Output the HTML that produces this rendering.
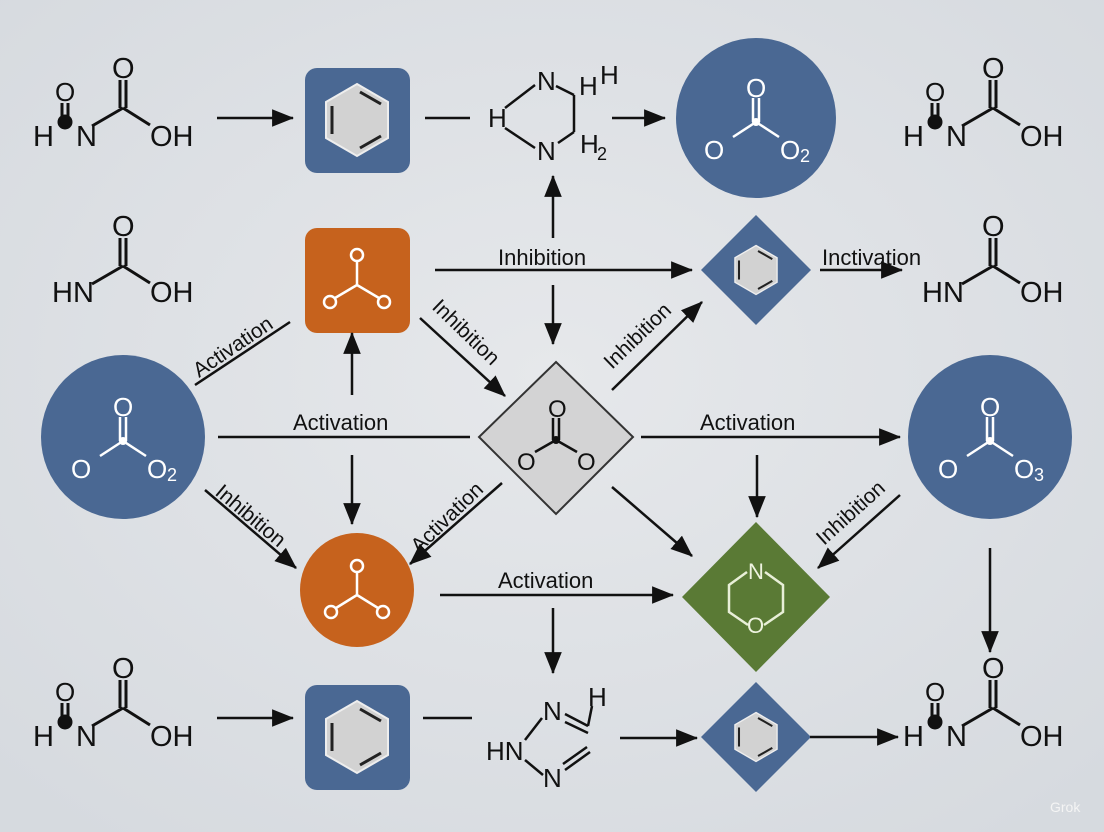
<!DOCTYPE html>
<html><head><meta charset="utf-8"><style>
html,body{margin:0;padding:0;background:#dde0e4}
svg{display:block}
text{font-family:"Liberation Sans",sans-serif;fill:#111}
</style></head><body>
<svg width="1104" height="832" viewBox="0 0 1104 832" xmlns="http://www.w3.org/2000/svg">
<defs>
<radialGradient id="bg" cx="50%" cy="45%" r="70%"><stop offset="0" stop-color="#e6e8eb"/><stop offset="1" stop-color="#d6dadf"/></radialGradient>
<marker id="a" viewBox="0 0 20 16" markerWidth="22" markerHeight="18" refX="19" refY="8" orient="auto" markerUnits="userSpaceOnUse"><path d="M0,0 L20,8 L0,16 z" fill="#111"/></marker>
<g id="carb" stroke="#111" stroke-width="3" fill="none">
<circle cx="65" cy="122" r="6" fill="#111"/>
<line x1="62" y1="103" x2="62" y2="118"/><line x1="68" y1="103" x2="68" y2="118"/>
<line x1="92" y1="126" x2="123" y2="108"/>
<line x1="120" y1="108" x2="120" y2="80"/><line x1="126" y1="108" x2="126" y2="80"/>
<line x1="123" y1="108" x2="150" y2="125"/>
<text x="33" y="146" font-size="29" stroke="none">H</text>
<text x="76" y="146" font-size="29" stroke="none">N</text>
<text x="150" y="146" font-size="29" stroke="none">OH</text>
<text x="112" y="78" font-size="29" stroke="none">O</text>
<text x="55" y="101" font-size="26" stroke="none">O</text>
</g>
<g id="hex"><polygon points="357,84 388,102 388,138 357,156 326,138 326,102" fill="#d2d2d2" stroke="#eee" stroke-width="2"/>
<g stroke="#222" stroke-width="3"><line x1="332" y1="106" x2="332" y2="134"/><line x1="360" y1="92" x2="381" y2="104"/><line x1="360" y1="148" x2="381" y2="136"/></g></g>
</defs>
<rect width="1104" height="832" fill="url(#bg)"/>

<use href="#carb"/>
<use href="#carb" x="870"/>
<use href="#carb" y="600"/>
<use href="#carb" x="870" y="600"/>
<g stroke="#111" stroke-width="3" fill="none">
<line x1="92" y1="284" x2="123" y2="266"/><line x1="120" y1="266" x2="120" y2="238"/><line x1="126" y1="266" x2="126" y2="238"/><line x1="123" y1="266" x2="150" y2="283"/>
<line x1="962" y1="284" x2="993" y2="266"/><line x1="990" y1="266" x2="990" y2="238"/><line x1="996" y1="266" x2="996" y2="238"/><line x1="993" y1="266" x2="1020" y2="283"/>
</g>
<g font-size="29">
<text x="52" y="302">HN</text><text x="150" y="302">OH</text><text x="112" y="236">O</text>
<text x="922" y="302">HN</text><text x="1020" y="302">OH</text><text x="982" y="236">O</text>
</g>

<rect x="305" y="68" width="105" height="105" rx="12" fill="#4a6893"/>
<use href="#hex"/>
<rect x="305" y="685" width="105" height="105" rx="12" fill="#4a6893"/>
<use href="#hex" y="617"/>

<rect x="305" y="228" width="105" height="105" rx="12" fill="#c6621d"/>
<g stroke="#fff" stroke-width="2.5" fill="none"><circle cx="357" cy="255" r="6"/><circle cx="330" cy="302" r="6"/><circle cx="384" cy="302" r="6"/>
<path d="M357,261 L357,285 L335,298 M357,285 L379,298"/></g>

<g stroke="#111" stroke-width="2.5" fill="none">
<line x1="505" y1="108" x2="535" y2="85"/><line x1="505" y1="128" x2="535" y2="148"/>
<line x1="556" y1="86" x2="574" y2="95"/><line x1="574" y1="95" x2="574" y2="132"/><line x1="574" y1="132" x2="558" y2="143"/>
</g>
<g font-size="26"><text x="537" y="90">N</text><text x="579" y="95">H</text><text x="600" y="84">H</text><text x="488" y="127">H</text><text x="537" y="160">N</text><text x="580" y="153">H</text><text x="597" y="160" font-size="18">2</text></g>

<g stroke="#111" stroke-width="2.5" fill="none">
<line x1="525" y1="740" x2="542" y2="718"/><line x1="525" y1="760" x2="543" y2="775"/>
<line x1="565" y1="714" x2="588" y2="726"/><line x1="565" y1="722" x2="588" y2="733"/><line x1="588" y1="726" x2="592" y2="706"/>
<line x1="565" y1="770" x2="590" y2="752"/><line x1="563" y1="764" x2="587" y2="747"/>
</g>
<g font-size="26"><text x="543" y="720">N</text><text x="588" y="706">H</text><text x="486" y="760">HN</text><text x="543" y="787">N</text></g>

<circle cx="756" cy="118" r="80" fill="#4a6893"/>
<circle cx="123" cy="437" r="82" fill="#4a6893"/>
<circle cx="990" cy="437" r="82" fill="#4a6893"/>
<g fill="#fff" font-size="26">
<g stroke="#fff" stroke-width="2.5"><line x1="753" y1="98" x2="753" y2="122"/><line x1="759" y1="98" x2="759" y2="122"/><line x1="756" y1="122" x2="733" y2="137"/><line x1="756" y1="122" x2="779" y2="137"/>
<line x1="120" y1="417" x2="120" y2="441"/><line x1="126" y1="417" x2="126" y2="441"/><line x1="123" y1="441" x2="100" y2="456"/><line x1="123" y1="441" x2="146" y2="456"/>
<line x1="987" y1="417" x2="987" y2="441"/><line x1="993" y1="417" x2="993" y2="441"/><line x1="990" y1="441" x2="967" y2="456"/><line x1="990" y1="441" x2="1013" y2="456"/></g>
<circle cx="756" cy="122" r="4"/><circle cx="123" cy="441" r="4"/><circle cx="990" cy="441" r="4"/>
<text x="746" y="97" style="fill:#fff">O</text><text x="704" y="159" style="fill:#fff">O</text><text x="780" y="159" style="fill:#fff">O</text><text x="800" y="162" font-size="18" style="fill:#fff">2</text>
<text x="113" y="416" style="fill:#fff">O</text><text x="71" y="478" style="fill:#fff">O</text><text x="147" y="478" style="fill:#fff">O</text><text x="167" y="481" font-size="18" style="fill:#fff">2</text>
<text x="980" y="416" style="fill:#fff">O</text><text x="938" y="478" style="fill:#fff">O</text><text x="1014" y="478" style="fill:#fff">O</text><text x="1034" y="481" font-size="18" style="fill:#fff">3</text>
</g>

<polygon points="756,215 811,270 756,325 701,270" fill="#4a6893"/>
<use href="#hex" transform="translate(756,270) scale(0.68) translate(-357,-120)"/>
<polygon points="756,682 811,737 756,792 701,737" fill="#4a6893"/>
<use href="#hex" transform="translate(756,737) scale(0.68) translate(-357,-120)"/>

<polygon points="556,362 633,437 556,514 479,437" fill="#d3d3d4" stroke="#333" stroke-width="2"/>
<g stroke="#111" stroke-width="2.5"><line x1="553" y1="418" x2="553" y2="440"/><line x1="559" y1="418" x2="559" y2="440"/><line x1="556" y1="440" x2="535" y2="452"/><line x1="556" y1="440" x2="577" y2="452"/></g>
<circle cx="556" cy="440" r="4" fill="#111"/>
<g font-size="24"><text x="548" y="417">O</text><text x="517" y="470">O</text><text x="577" y="470">O</text></g>

<circle cx="357" cy="590" r="57" fill="#c6621d"/>
<g stroke="#fff" stroke-width="2.5" fill="none"><circle cx="357" cy="566" r="6"/><circle cx="331" cy="612" r="6"/><circle cx="383" cy="612" r="6"/>
<path d="M357,572 L357,595 L336,608 M357,595 L378,608"/></g>

<polygon points="756,522 830,597 756,672 682,597" fill="#5a7a35"/>
<g stroke="#e8efd8" stroke-width="2.5" fill="none"><path d="M747,572 L729,585 L729,612 L748,625 M765,572 L783,585 L783,612 L764,625"/></g>
<g font-size="22"><text x="748" y="579" style="fill:#eef3e0">N</text><text x="747" y="633" style="fill:#eef3e0">O</text></g>

<g stroke="#111" stroke-width="2.5" fill="none">
<line x1="217" y1="118" x2="293" y2="118" marker-end="url(#a)"/>
<line x1="425" y1="118" x2="470" y2="118"/>
<line x1="612" y1="118" x2="665" y2="118" marker-end="url(#a)"/>
<line x1="435" y1="270" x2="692" y2="270" marker-end="url(#a)"/>
<line x1="553" y1="238" x2="553" y2="176" marker-end="url(#a)"/>
<line x1="553" y1="285" x2="553" y2="344" marker-end="url(#a)"/>
<line x1="820" y1="270" x2="902" y2="270" marker-end="url(#a)"/>
<line x1="218" y1="437" x2="470" y2="437"/>
<line x1="641" y1="437" x2="900" y2="437" marker-end="url(#a)"/>
<line x1="352" y1="395" x2="352" y2="333" marker-end="url(#a)"/>
<line x1="352" y1="455" x2="352" y2="524" marker-end="url(#a)"/>
<line x1="195" y1="385" x2="290" y2="322"/>
<line x1="420" y1="318" x2="505" y2="396" marker-end="url(#a)"/>
<line x1="612" y1="390" x2="702" y2="302" marker-end="url(#a)"/>
<line x1="757" y1="455" x2="757" y2="517" marker-end="url(#a)"/>
<line x1="612" y1="487" x2="692" y2="556" marker-end="url(#a)"/>
<line x1="900" y1="495" x2="818" y2="568" marker-end="url(#a)"/>
<line x1="205" y1="490" x2="296" y2="568" marker-end="url(#a)"/>
<line x1="502" y1="483" x2="410" y2="564" marker-end="url(#a)"/>
<line x1="440" y1="595" x2="673" y2="595" marker-end="url(#a)"/>
<line x1="553" y1="608" x2="553" y2="673" marker-end="url(#a)"/>
<line x1="990" y1="548" x2="990" y2="652" marker-end="url(#a)"/>
<line x1="217" y1="718" x2="293" y2="718" marker-end="url(#a)"/>
<line x1="423" y1="718" x2="472" y2="718"/>
<line x1="620" y1="738" x2="697" y2="738" marker-end="url(#a)"/>
<line x1="810" y1="737" x2="898" y2="737" marker-end="url(#a)"/>
</g>

<g font-size="22">
<text x="498" y="265">Inhibition</text>
<text x="822" y="265">Inctivation</text>
<text x="293" y="430">Activation</text>
<text x="700" y="430">Activation</text>
<text x="498" y="588">Activation</text>
<text transform="translate(199,378) rotate(-34)" font-size="21">Activation</text>
<text transform="translate(431,308) rotate(44)" font-size="21">Inhibition</text>
<text transform="translate(612,370) rotate(-44)" font-size="21">Inhibition</text>
<text transform="translate(824,546) rotate(-42)" font-size="21">Inhibition</text>
<text transform="translate(214,494) rotate(40)" font-size="21">Inhibition</text>
<text transform="translate(419,554) rotate(-44)" font-size="21">Activation</text>
</g>
<text x="1050" y="812" font-size="14" style="fill:#f4f4f4">Grok</text>
</svg>
</body></html>
